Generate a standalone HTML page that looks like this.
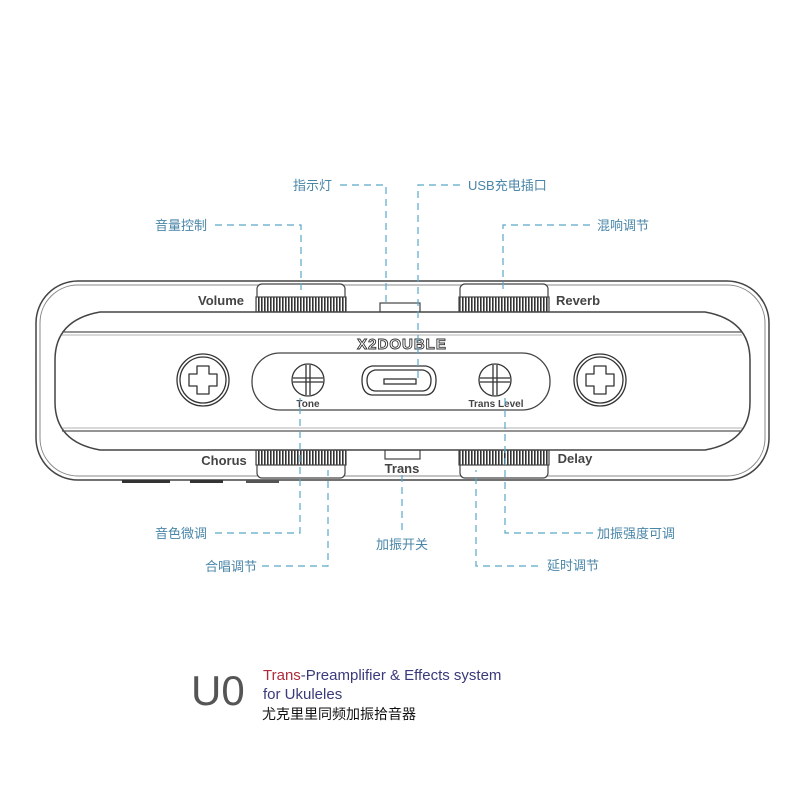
<!DOCTYPE html>
<html><head><meta charset="utf-8"><style>
html,body{margin:0;padding:0;background:#fff;}
svg{display:block;}
.lb{font-family:"Liberation Sans","Noto Sans CJK SC",sans-serif;font-size:13px;fill:#4a86a8;}
.dl{stroke:#5aa6c8;stroke-width:1.2;stroke-dasharray:7 5;fill:none;}
.k{font-family:"Liberation Sans",sans-serif;font-weight:bold;fill:#444;}
</style></head><body>
<svg width="800" height="800" viewBox="0 0 800 800" xmlns="http://www.w3.org/2000/svg">
<defs>
<pattern id="knurl" width="3" height="10" patternUnits="userSpaceOnUse">
<rect width="3" height="10" fill="#fff"/><rect width="1.6" height="10" fill="#333"/>
</pattern>
</defs>
<!-- outer body -->
<rect x="36" y="281" width="733" height="199" rx="42" fill="none" stroke="#444" stroke-width="1.5"/>
<rect x="40" y="285" width="725" height="191" rx="38" fill="none" stroke="#888" stroke-width="1"/>
<!-- feet -->
<rect x="122" y="480" width="48" height="3" fill="#333"/>
<rect x="190" y="480" width="33" height="3" fill="#333"/>
<rect x="246" y="480" width="33" height="3" fill="#555"/>
<!-- knobs top -->
<g stroke="#444" stroke-width="1.2">
<path d="M257 312 V289 a5 5 0 0 1 5 -5 H340 a5 5 0 0 1 5 5 V312" fill="#fff"/>
<rect x="256" y="297" width="90" height="15" fill="url(#knurl)"/>
<path d="M460 312 V289 a5 5 0 0 1 5 -5 H543 a5 5 0 0 1 5 5 V312" fill="#fff"/>
<rect x="459" y="297" width="90" height="15" fill="url(#knurl)"/>
<path d="M257 450 V473 a5 5 0 0 0 5 5 H340 a5 5 0 0 0 5 -5 V450" fill="#fff"/>
<rect x="256" y="450" width="90" height="15" fill="url(#knurl)"/>
<path d="M460 450 V473 a5 5 0 0 0 5 5 H543 a5 5 0 0 0 5 -5 V450" fill="#fff"/>
<rect x="459" y="450" width="90" height="15" fill="url(#knurl)"/>
<rect x="380" y="303" width="40" height="9" fill="#fff"/>
<rect x="385" y="450" width="35" height="9" fill="#fff"/>
</g>
<!-- inner panel -->
<path d="M100 312 H705 Q750 320 750 360 V402 Q750 442 705 450 H100 Q55 442 55 402 V360 Q55 320 100 312 Z" fill="#fff" stroke="#444" stroke-width="1.5"/>
<line x1="62" y1="332" x2="742" y2="332" stroke="#555" stroke-width="1.2"/>
<line x1="62" y1="335" x2="742" y2="335" stroke="#999" stroke-width="0.8"/>
<line x1="62" y1="428" x2="742" y2="428" stroke="#999" stroke-width="0.8"/>
<line x1="62" y1="431" x2="742" y2="431" stroke="#555" stroke-width="1.2"/>
<!-- logo -->
<text x="402" y="349" text-anchor="middle" font-family="Liberation Sans,sans-serif" font-size="15" font-weight="bold" fill="#fff" stroke="#333" stroke-width="0.9" letter-spacing="1">X2DOUBLE</text>
<!-- pill -->
<rect x="252" y="353" width="298" height="57" rx="28" fill="#fff" stroke="#444" stroke-width="1.3"/>
<!-- screws -->
<g fill="#fff" stroke="#333" stroke-width="1.3">
<circle cx="203" cy="380" r="26"/><circle cx="203" cy="380" r="23"/>
<path d="M197 366 h12 v8 h8 v12 h-8 v8 h-12 v-8 h-8 v-12 h8 z" stroke-linejoin="round"/>
<circle cx="600" cy="380" r="26"/><circle cx="600" cy="380" r="23"/>
<path d="M594 366 h12 v8 h8 v12 h-8 v8 h-12 v-8 h-8 v-12 h8 z" stroke-linejoin="round"/>
<circle cx="308" cy="380" r="16"/>
<path d="M306 365 v30 M310 365 v30 M293 378 h30 M293 382 h30"/>
<circle cx="495" cy="380" r="16"/>
<path d="M493 365 v30 M497 365 v30 M480 378 h30 M480 382 h30"/>
<!-- usb -->
<path d="M372 366 H426 Q436 368 436 380 Q436 394 426 395 H372 Q362 394 362 380 Q362 368 372 366 Z"/>
<path d="M375 370 H423 Q431 372 431 380 Q431 390 423 391 H375 Q367 390 367 380 Q367 372 375 370 Z"/>
<rect x="384" y="379" width="32" height="5"/>
</g>
<text class="k" x="308" y="407" font-size="10" text-anchor="middle">Tone</text>
<text class="k" x="496" y="407" font-size="10" text-anchor="middle">Trans Level</text>
<text class="k" x="221" y="305" font-size="13" text-anchor="middle">Volume</text>
<text class="k" x="578" y="305" font-size="13" text-anchor="middle">Reverb</text>
<text class="k" x="224" y="465" font-size="13" text-anchor="middle">Chorus</text>
<text class="k" x="575" y="463" font-size="13" text-anchor="middle">Delay</text>
<text class="k" x="402" y="473" font-size="13" text-anchor="middle">Trans</text>
<!-- connectors -->
<path class="dl" d="M340 185 H386 V305"/>
<path class="dl" d="M460 185 H418 V380"/>
<path class="dl" d="M215 225 H301 V290"/>
<path class="dl" d="M590 225 H503 V290"/>
<path class="dl" d="M215 533 H300 V398"/>
<path class="dl" d="M262 566 H328 V470"/>
<path class="dl" d="M402 530 V475"/>
<path class="dl" d="M593 533 H505 V398"/>
<path class="dl" d="M538 566 H476 V470"/>
<text class="lb" x="293" y="190">指示灯</text>
<text class="lb" x="468" y="190">USB充电插口</text>
<text class="lb" x="155" y="230">音量控制</text>
<text class="lb" x="597" y="230">混响调节</text>
<text class="lb" x="155" y="538">音色微调</text>
<text class="lb" x="205" y="571">合唱调节</text>
<text class="lb" x="376" y="549">加振开关</text>
<text class="lb" x="597" y="538">加振强度可调</text>
<text class="lb" x="547" y="570">延时调节</text>
<!-- title -->
<text x="191" y="705" font-family="Liberation Sans,sans-serif" font-size="42" fill="#555">U0</text>
<text x="263" y="680" font-family="Liberation Sans,sans-serif" font-size="15" fill="#3a3a7a"><tspan fill="#b02a3a">Trans</tspan>-Preamplifier &amp; Effects system</text>
<text x="263" y="699" font-family="Liberation Sans,sans-serif" font-size="15" fill="#3a3a7a">for Ukuleles</text>
<text x="262" y="719" font-family="Liberation Sans,'Noto Sans CJK SC',sans-serif" font-size="14" fill="#111">尤克里里同频加振拾音器</text>
</svg>
</body></html>
